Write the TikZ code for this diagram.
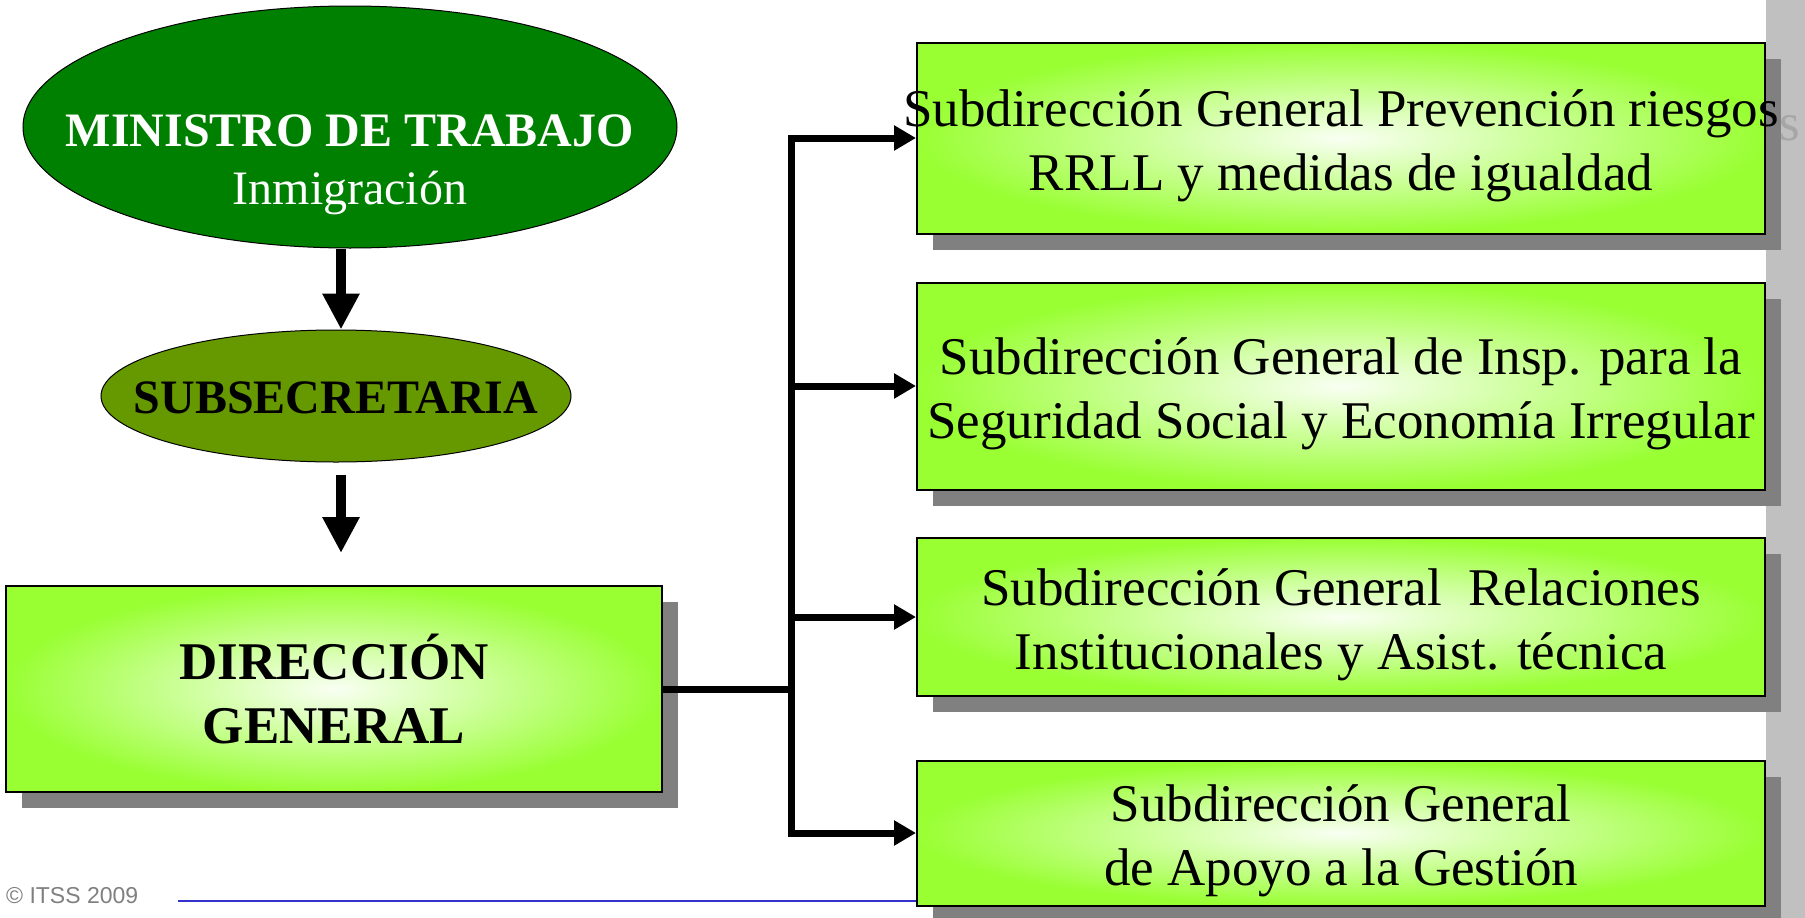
\documentclass[tikz,border=0pt]{standalone}
\usepackage{fontspec}
\setmainfont{Liberation Serif}
\newfontfamily\itssfont{Liberation Sans}
\usetikzlibrary{shapes.geometric,shadows,arrows.meta}
\definecolor{ministrogreen}{RGB}{0,128,0}
\definecolor{subsecgreen}{RGB}{102,153,0}
\definecolor{limegreen}{RGB}{153,255,51}
\definecolor{sidebar}{RGB}{192,192,192}
\definecolor{footblue}{RGB}{51,51,204}
\begin{document}
\begin{tikzpicture}[x=1pt,y=-1pt,
  ellnode/.style={ellipse,draw=black,line width=1pt,inner sep=0pt},
  unitbox/.style={rectangle,draw=black,line width=2pt,inner sep=0pt,
    inner color=limegreen!6!white,outer color=limegreen,
    drop shadow={shadow xshift=16pt,shadow yshift=-16pt,opacity=1,fill=black!50}},
  boxtext/.style={align=center,inner sep=0pt,font=\fontsize{53}{64}\selectfont},
  bigarrow/.style={line width=10pt,-{Triangle[length=36pt,width=35pt]}},
  subarrow/.style={line width=7pt,-{Triangle[length=22pt,width=24pt]}}]
\useasboundingbox[fill=white] (0,0) rectangle (1805,918);
\fill[sidebar] (1766,0) rectangle (1805,918);
\node[text=black!35,inner sep=0pt,font=\fontsize{53}{64}\selectfont] (ghost) at (1790,128) {s};
\draw[footblue,line width=2.5pt] (178,901) -- (920,901);
\node[anchor=west,inner sep=0pt,text=black!50,font=\itssfont\fontsize{23}{27}\selectfont] (itss) at (6,896) {© ITSS 2009};

\node[ellnode,fill=ministrogreen,minimum width=654,minimum height=242] (ministro) at (350,127) {};
\node[align=center,text=white,inner sep=0pt,font=\fontsize{48}{58}\selectfont] (ministrotext) at ([yshift=-38pt]ministro.center)
  {\textbf{MINISTRO DE TRABAJO}\\Inmigración};
\node[ellnode,fill=subsecgreen,minimum width=470,minimum height=132] (sub) at (336,396) {};
\node[inner sep=0pt,font=\bfseries\fontsize{48}{58}\selectfont] (subtext) at ([yshift=-2pt]sub.center) {SUBSECRETARIA};
\node[unitbox,minimum width=656,minimum height=206,align=center,font=\bfseries\fontsize{53}{64}\selectfont] (dir) at (334,689) {DIRECCIÓN\\GENERAL};
\coordinate (dirtip) at (341,553);

\draw[bigarrow] ([xshift=-9pt]ministro.south) -- ([xshift=5pt]sub.north);
\draw[bigarrow] ([xshift=5pt,yshift=-12pt]sub.south) -- (dirtip);

\foreach \nm/\yc/\hh/\txt in {
  subA/138/191/{Subdirección General Prevención riesgos\\RRLL y medidas de igualdad},
  subB/386/207/{Subdirección General de Insp. para la\\Seguridad Social y Economía Irregular},
  subC/617/158/{Subdirección General\ \ Relaciones\\Institucionales y Asist. técnica},
  subD/833/145/{Subdirección General\\de Apoyo a la Gestión}}
{
  \node[unitbox,minimum width=848,minimum height=\hh] (\nm) at (1341,\yc) {};
  \node[boxtext] (\nm text) at ([yshift=-8pt]\nm.center) {\txt};
}

\draw[line width=7pt] (dir.east) -- ++(128,0) coordinate (fork);
\draw[subarrow] (fork |- subD.west) -- (fork |- subA.west) -- (subA.west);
\draw[subarrow] (fork |- subA.west) -- (fork |- subD.west) -- (subD.west);
\draw[subarrow] (fork |- subB.west) -- (subB.west);
\draw[subarrow] (fork |- subC.west) -- (subC.west);
\end{tikzpicture}
\end{document}
